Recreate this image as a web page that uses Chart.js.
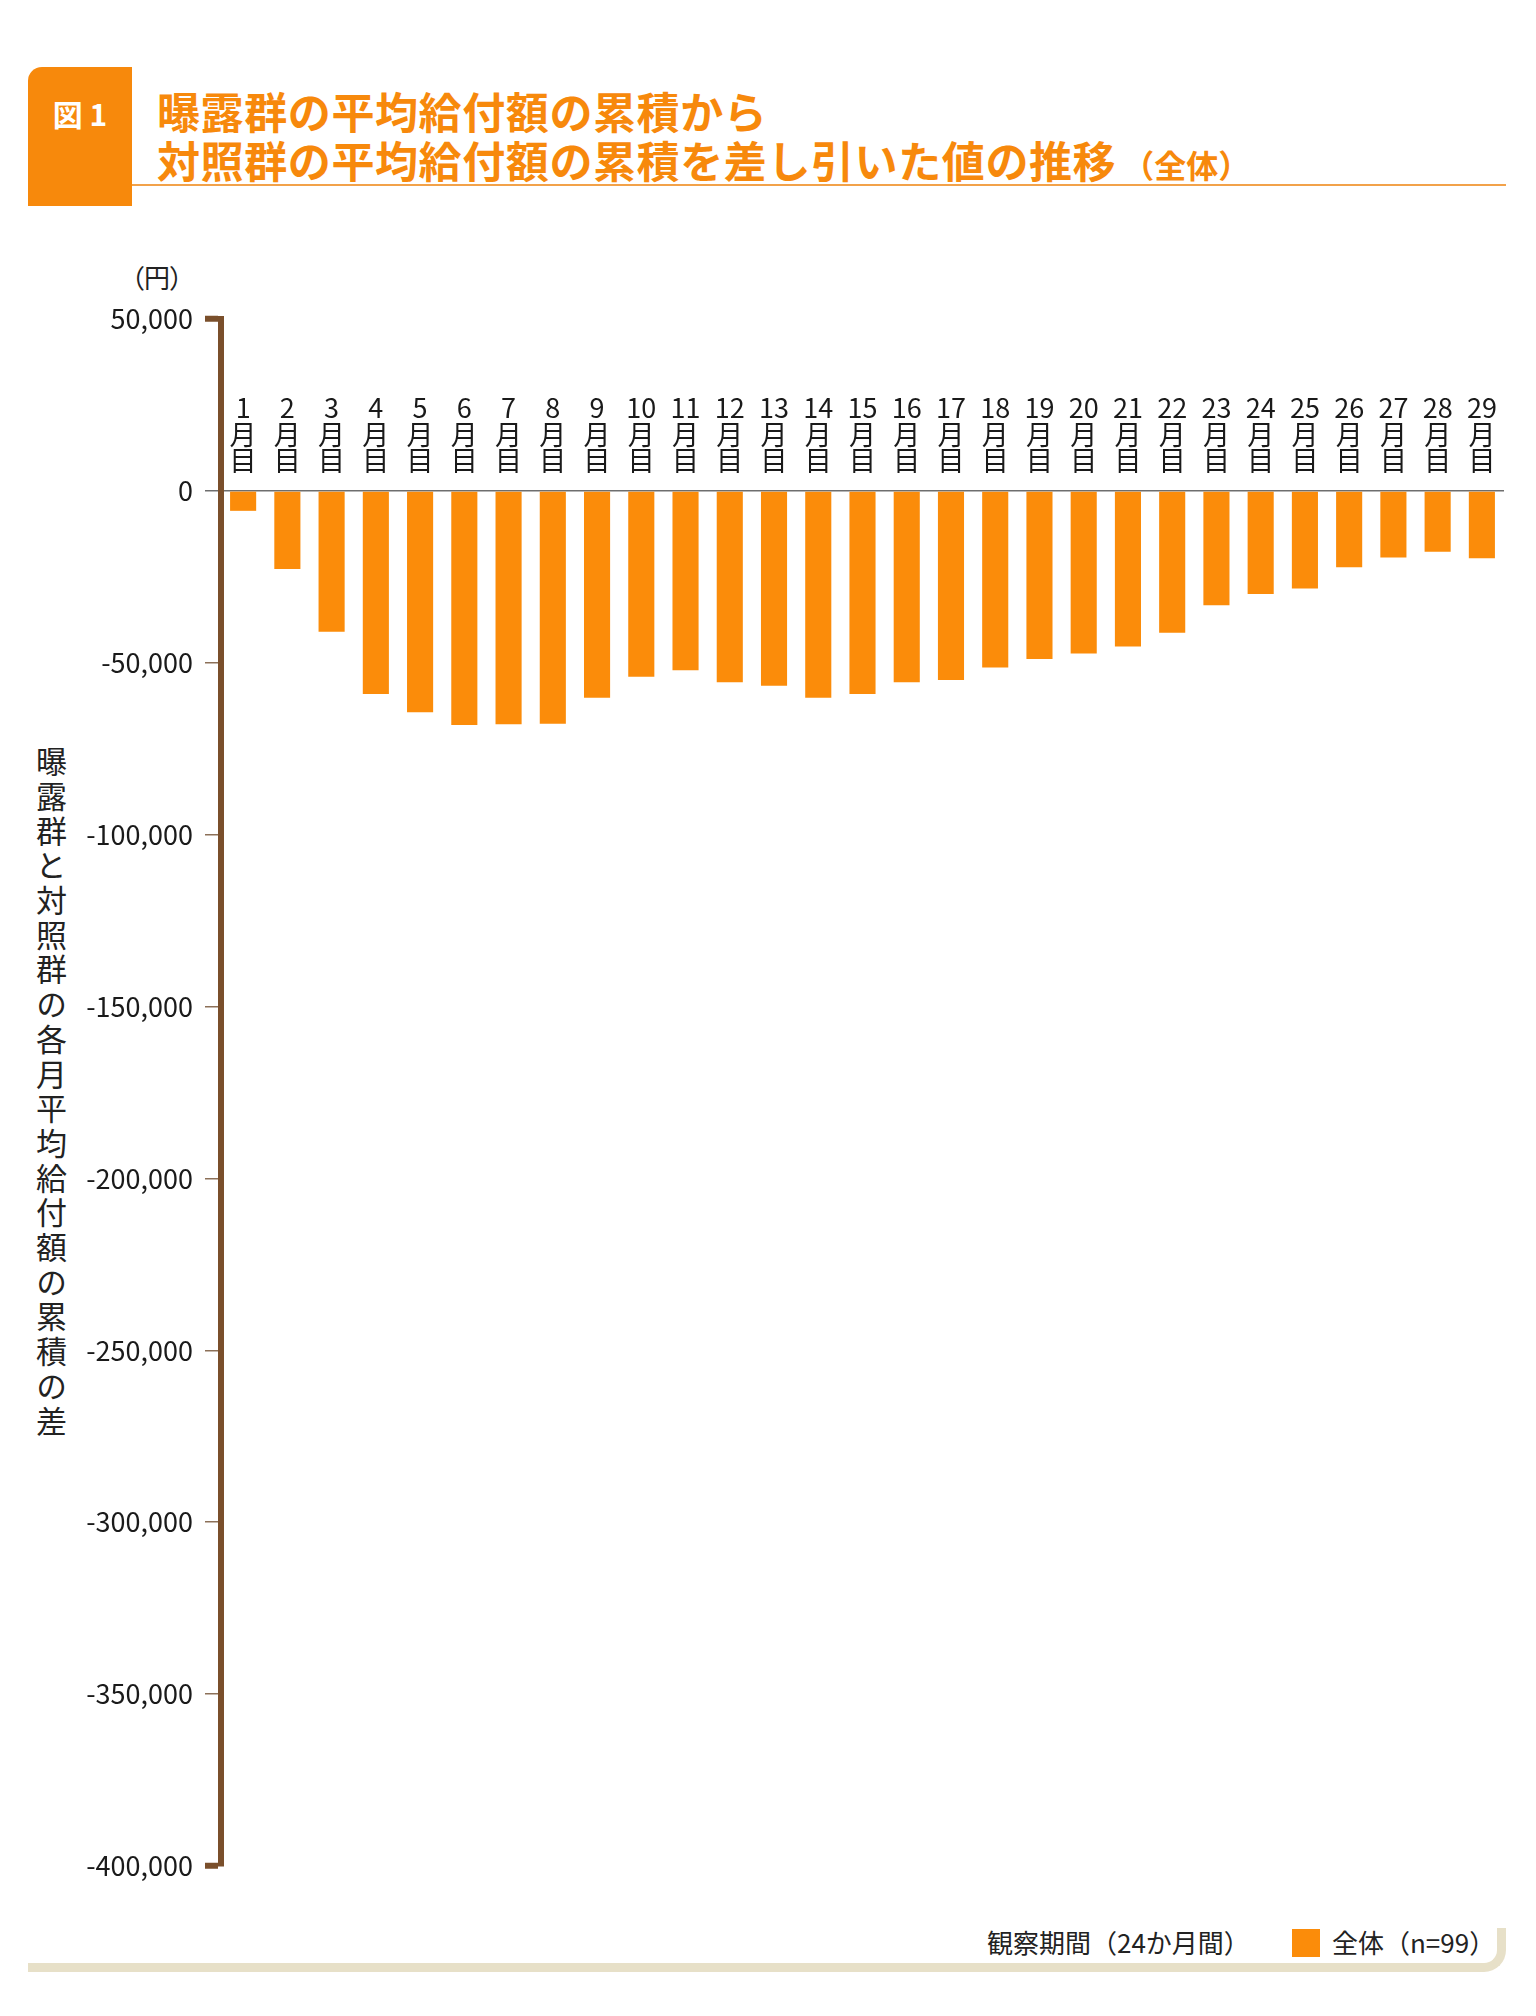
<!DOCTYPE html>
<html lang="ja">
<head>
<meta charset="utf-8">
<title>曝露群の平均給付額の累積から対照群の平均給付額の累積を差し引いた値の推移</title>
<script src="https://cdn.jsdelivr.net/npm/chart.js@4/dist/chart.umd.min.js"></script>
<style>
 body { margin:0; width:1536px; height:2016px; background:#fff; position:relative;
        font-family:"Noto Sans CJK JP", sans-serif; color:#222; overflow:hidden; }
 .figbox { position:absolute; left:28px; top:67px; width:104px; height:139px;
           background:#f7890c; border-top-left-radius:14px; }
 .figbox span { position:absolute; left:0; width:104px; top:23px; line-height:46px;
                text-align:center; color:#fff; font-weight:bold; font-size:30px; }
 .title { position:absolute; left:157px; top:86px; font-size:43px; line-height:49px; letter-spacing:0.6px;
          font-weight:bold; color:#f7890c; white-space:nowrap; }
 .title small { font-size:32px; margin-left:6px; letter-spacing:0; }
 .rule { position:absolute; left:132px; top:184px; width:1374px; height:2px; background:#f2a24a; }
 .unit { position:absolute; left:131px; top:258px; font-size:26px; font-feature-settings:"palt"; }
 .ytitle { position:absolute; left:33px; top:746px; writing-mode:vertical-rl; font-size:31px;
           letter-spacing:3.7px; line-height:36px; }
 #wrap { position:absolute; left:0; top:240px; width:1536px; height:1660px; }
 .foot { position:absolute; left:987px; top:1924px; font-size:26px; line-height:36px; white-space:nowrap; }
 .legend { position:absolute; left:1292px; top:1924px; font-size:26px; line-height:36px; white-space:nowrap; }
 .legend i { display:inline-block; width:28px; height:28px; vertical-align:-4px; margin-right:12px; }
 .frame { position:absolute; left:28px; top:1928px; width:1478px; height:44px; box-sizing:border-box;
          border-right:9px solid #e7e0c8; border-bottom:9px solid #e7e0c8; border-bottom-right-radius:22px; }
</style>
</head>
<body>

<div class="figbox"><span>図 1</span></div>
<div class="title">曝露群の平均給付額の累積から<br>対照群の平均給付額の累積を差し引いた値の推移<small>（全体）</small></div>
<div class="rule"></div>
<div class="unit">（円）</div>
<div class="ytitle">曝露群と対照群の各月平均給付額の累積の差</div>

<div id="wrap"><canvas id="diffChart"></canvas></div>

<div class="foot" id="xTitle"></div>
<div class="legend" id="legend"></div>
<div class="frame"></div>

<script>
'use strict';

// months after start (1..29)
const months = ['1月目','2月目','3月目','4月目','5月目','6月目','7月目','8月目','9月目','10月目',
                '11月目','12月目','13月目','14月目','15月目','16月目','17月目','18月目','19月目','20月目',
                '21月目','22月目','23月目','24月目','25月目','26月目','27月目','28月目','29月目'];

// cumulative difference (yen)
const diffValues = [-5800, -22700, -41000, -59100, -64400, -68100, -67900, -67700, -60200, -54100,
                    -52200, -55700, -56700, -60200, -59100, -55700, -55000, -51400, -48900, -47300,
                    -45300, -41300, -33300, -30000, -28400, -22200, -19400, -17700, -19600];

const seriesLabel = '全体（n=99）';
const periodLabel = '観察期間（24か月間）';
const yTicks = [50000, 0, -50000, -100000, -150000, -200000, -250000, -300000, -350000, -400000];

const orange = '#fb8c0a';
const brown = '#7a4f2b';

// month labels stacked vertically, just above the zero line
const monthLabels = {
  id: 'monthLabels',
  afterDatasetsDraw(chart) {
    const ctx = chart.ctx;
    const x = chart.scales.x, y = chart.scales.y;
    const y0 = y.getPixelForValue(0);
    ctx.save();
    ctx.font = '27px "Noto Sans CJK JP"';
    ctx.fillStyle = '#1a1a1a';
    ctx.textAlign = 'center';
    ctx.textBaseline = 'middle';
    chart.data.labels.forEach((lab, i) => {
      const px = x.getPixelForValue(i);
      const parts = [lab.replace('月目', ''), '月', '目'];
      parts.forEach((t, k) => {
        ctx.fillText(t, px, y0 - 30 - (2 - k) * 26.5);
      });
    });
    ctx.restore();
  }
};

const theBars = new Chart('diffChart', {
  type: 'bar',
  data: {
    labels: months,
    datasets: [{
      label: seriesLabel,
      data: diffValues,
      backgroundColor: orange,
      borderWidth: 0,
      barPercentage: 0.59,
      categoryPercentage: 1
    }]
  },
  options: {
    responsive: true,
    maintainAspectRatio: false,
    animation: false,
    layout: { padding: { top: 79, bottom: 34, left: 0, right: 32 } },
    plugins: {
      legend: { display: false },
      tooltip: { enabled: false }
    },
    scales: {
      x: { display: false },
      y: {
        min: -400000,
        max: 50000,
        afterFit: s => { s.width = 221; },
        afterBuildTicks: s => { s.ticks = yTicks.map(v => ({ value: v })); },
        ticks: {
          padding: 12,
          color: '#1a1a1a',
          font: { family: 'Noto Sans CJK JP', size: 27 },
          callback: v => v.toLocaleString('en-US')
        },
        grid: {
          color: c => (c.tick && c.tick.value === 0) ? '#6e6e6e' : 'rgba(0,0,0,0)',
          lineWidth: 1.5,
          tickLength: 16,
          tickColor: c => (c.tick && (c.tick.value === 50000 || c.tick.value === -400000)) ? brown
                          : (c.tick && c.tick.value === 0) ? '#6e6e6e' : '#8c7058',
          tickWidth: c => (c.tick && (c.tick.value === 50000 || c.tick.value === -400000)) ? 6 : 1.5
        },
        border: { display: true, color: brown, width: 6 }
      }
    }
  },
  plugins: [monthLabels]
});

document.getElementById('xTitle').textContent = periodLabel;
document.getElementById('legend').innerHTML = '<i style="background:' + orange + '"></i>' + seriesLabel;
</script>
</body>
</html>
